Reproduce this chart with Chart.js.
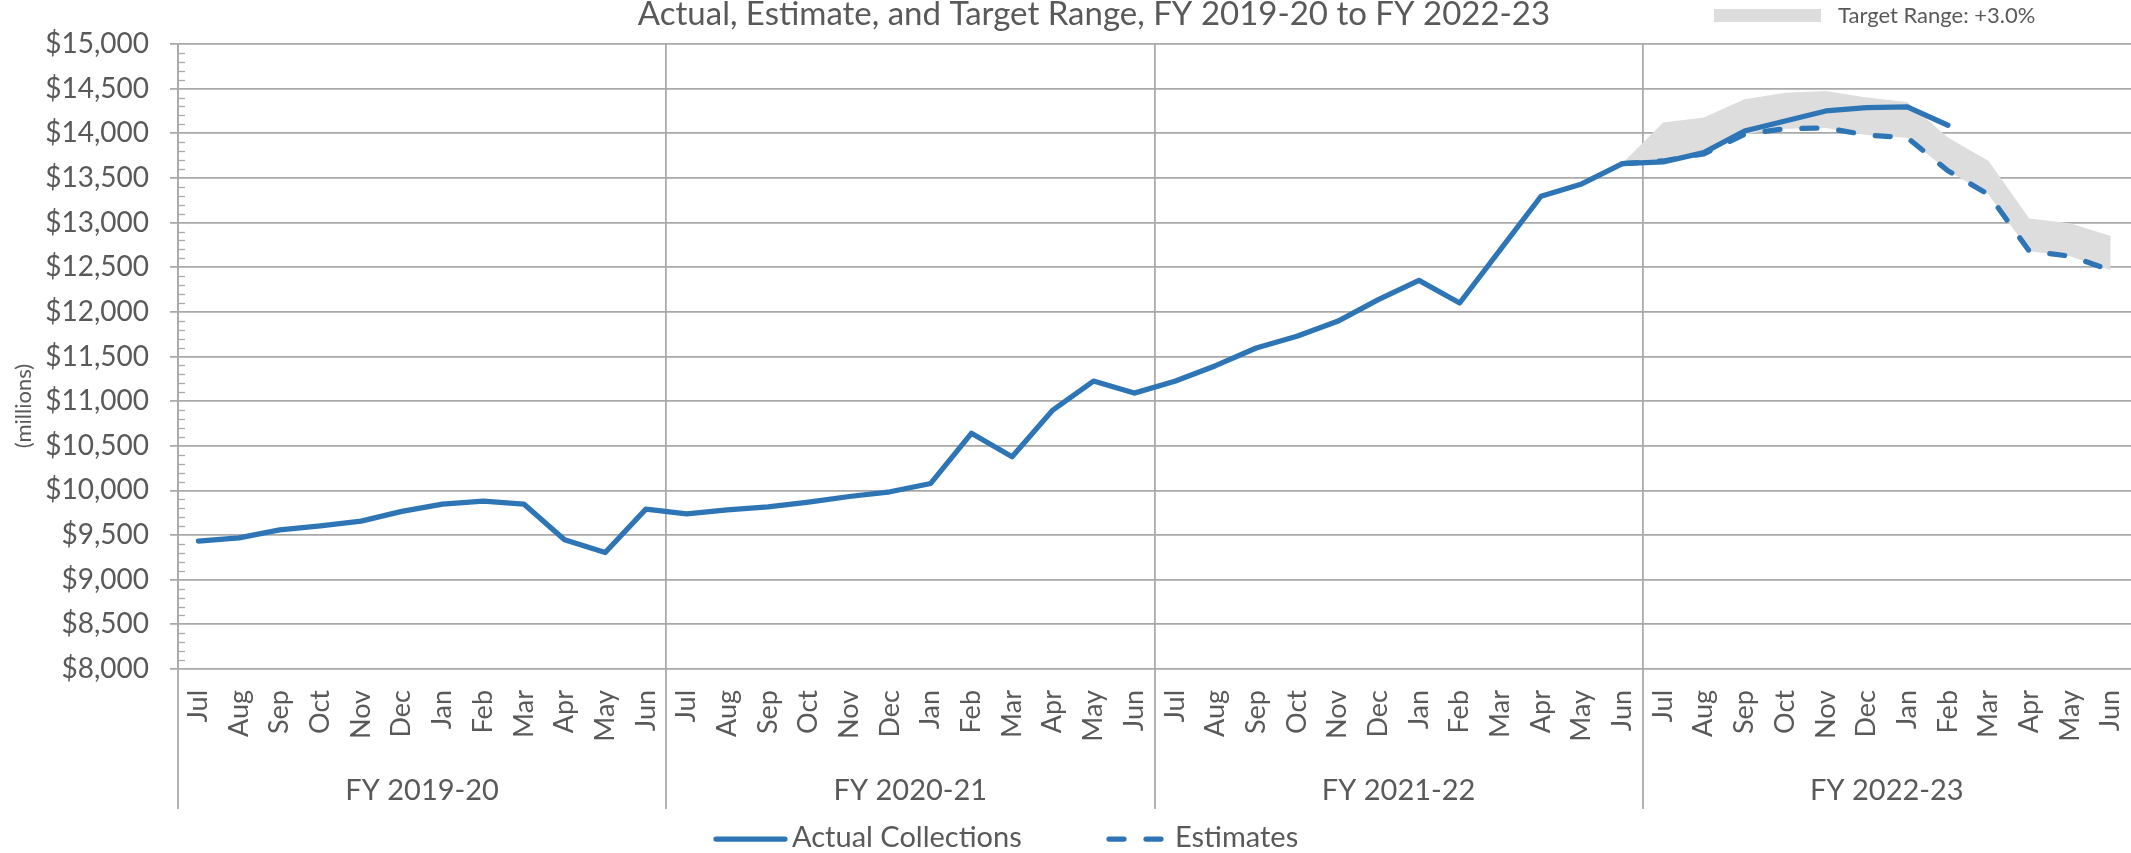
<!DOCTYPE html>
<html>
<head>
<meta charset="utf-8">
<script src="https://cdn.jsdelivr.net/npm/chart.js@4.4.1/dist/chart.umd.min.js"></script>
<style>
html,body{margin:0;padding:0;background:#ffffff;}
#wrap{width:2131px;height:853px;position:relative;overflow:hidden;}
</style>
</head>
<body>
<div id="wrap"><canvas id="c" width="2131" height="853"></canvas></div>
<script>
// ---------- data ----------
const monthNames = ['Jul','Aug','Sep','Oct','Nov','Dec','Jan','Feb','Mar','Apr','May','Jun'];
const fiscalYears = ['FY 2019-20','FY 2020-21','FY 2021-22','FY 2022-23'];
const yTickValues = [8000,8500,9000,9500,10000,10500,11000,11500,12000,12500,13000,13500,14000,14500,15000];

const actual1920 = [9432, 9469, 9559, 9604, 9656, 9765, 9847, 9880, 9847, 9447, 9305, 9791];
const actual2021 = [9738, 9782, 9817, 9870, 9932, 9985, 10078, 10640, 10378, 10900, 11225, 11090];
const actual2122 = [11222, 11397, 11595, 11726, 11894, 12137, 12353, 12099, 12697, 13295, 13433, 13661];
const actual2223 = [13679, 13784, 14026, 14138, 14250, 14287, 14295, 14090, null, null, null, null];

// Estimates and target range start from the June 2022 actual
const estimateStartJun22 = 13661;
const estimates2223 = [13690, 13770, 13988, 14052, 14060, 13981, 13951, 13580, 13315, 12680, 12624, 12467];
const targetStartJun22 = 13665;
const targetUpper2223 = [14120, 14176, 14381, 14455, 14474, 14400, 14350, 13952, 13690, 13045, 12993, 12851];

const titleText = 'Actual, Estimate, and Target Range, FY 2019-20 to FY 2022-23';
const yTitleText = '(millions)';
const bandLegendText = 'Target Range: +3.0%';

// ---------- assembled series ----------
const monthLabels = fiscalYears.flatMap(() => monthNames);
const actual = [...actual1920, ...actual2021, ...actual2122, ...actual2223];
const priorMonths = actual1920.length + actual2021.length + actual2122.length - 1;
const estimates = [...new Array(priorMonths).fill(null), estimateStartJun22, ...estimates2223];
const targetUpper = [...new Array(priorMonths).fill(null), targetStartJun22, ...targetUpper2223];

// ---------- styles ----------
const GRID = '#A9A9A9';
const TEXT = '#595959';
const BLUE = '#2E75B6';
const BAND = '#DDDDDD';
const FONT = 'Lato, "Open Sans", sans-serif';
const LINE_W = 5.25;

const extras = {
  id: 'extras',
  afterDraw(chart) {
    const {ctx, chartArea: ca, scales} = chart;
    const x = scales.x, x2 = scales.x2, y = scales.y;
    ctx.save();
    // fiscal-year divider lines through the category label area
    ctx.strokeStyle = GRID;
    ctx.lineWidth = 1.75;
    for (let i = 0; i < fiscalYears.length; i++) {
      const px = Math.round(x.getPixelForValue(i * monthNames.length - 0.5));
      ctx.beginPath();
      ctx.moveTo(px, ca.bottom);
      ctx.lineTo(px, x2.bottom);
      ctx.stroke();
    }
    // minor ticks on the value axis
    ctx.lineWidth = 1.3;
    for (let v = y.min; v <= y.max; v += 100) {
      if (v % 500 === 0) continue;
      const py = Math.round(y.getPixelForValue(v)) + 0.5;
      ctx.beginPath();
      ctx.moveTo(ca.left, py);
      ctx.lineTo(ca.left + 7, py);
      ctx.stroke();
    }
    // title
    ctx.fillStyle = TEXT;
    ctx.font = '33px ' + FONT;
    ctx.textAlign = 'center';
    ctx.textBaseline = 'alphabetic';
    ctx.fillText(titleText, 1094, 25);
    // band legend (top right)
    ctx.fillStyle = BAND;
    ctx.fillRect(1714, 9, 107, 13);
    ctx.fillStyle = TEXT;
    ctx.font = '22px ' + FONT;
    ctx.textAlign = 'left';
    ctx.fillText(bandLegendText, 1838, 23);
    // value-axis title
    ctx.save();
    ctx.translate(24, 406);
    ctx.rotate(-Math.PI / 2);
    ctx.textAlign = 'center';
    ctx.textBaseline = 'middle';
    ctx.font = '22px ' + FONT;
    ctx.fillText(yTitleText, 0, 0);
    ctx.restore();
    // bottom legend for the two lines
    const ds = chart.data.datasets;
    const items = [
      {d: ds[0], x0: 716, x1: 785, tx: 792},
      {d: ds[1], x0: 1109, x1: 1166, tx: 1175}
    ];
    ctx.font = '29px ' + FONT;
    items.forEach(it => {
      ctx.strokeStyle = it.d.borderColor;
      ctx.lineWidth = it.d.borderWidth;
      ctx.lineCap = 'round';
      ctx.setLineDash(it.d.borderDash || []);
      ctx.beginPath();
      ctx.moveTo(it.x0, 839);
      ctx.lineTo(it.x1, 839);
      ctx.stroke();
      ctx.setLineDash([]);
      ctx.fillStyle = TEXT;
      ctx.textAlign = 'left';
      ctx.textBaseline = 'alphabetic';
      ctx.fillText(it.d.label, it.tx, 847);
    });
    ctx.restore();
  }
};

function draw() {
  new Chart(document.getElementById('c'), {
    type: 'line',
    data: {
      labels: monthLabels,
      datasets: [
        {label: 'Actual Collections', data: actual, borderColor: BLUE, borderWidth: LINE_W,
         borderCapStyle: 'round', borderJoinStyle: 'round', pointRadius: 0, fill: false, tension: 0,
         xAxisID: 'x', yAxisID: 'y'},
        {label: 'Estimates', data: estimates, borderColor: BLUE, borderWidth: LINE_W, borderDash: [15, 22],
         borderCapStyle: 'round', borderJoinStyle: 'round', pointRadius: 0, fill: false, tension: 0,
         xAxisID: 'x', yAxisID: 'y'},
        {label: bandLegendText, data: targetUpper, borderColor: 'rgba(0,0,0,0)', borderWidth: 0,
         backgroundColor: BAND, pointRadius: 0, fill: 1, tension: 0, xAxisID: 'x', yAxisID: 'y'}
      ]
    },
    options: {
      responsive: false,
      animation: false,
      devicePixelRatio: 1,
      layout: {padding: {top: 44, bottom: 44, left: 0, right: 0}},
      plugins: {legend: {display: false}, title: {display: false}, tooltip: {enabled: false}},
      scales: {
        x: {
          type: 'category', position: 'bottom', offset: true,
          grid: {offset: true, drawTicks: false, lineWidth: 1.75,
                 color: c => (c.index % monthNames.length === 0 && c.index < monthLabels.length) ? GRID : 'rgba(0,0,0,0)'},
          border: {display: false},
          ticks: {autoSkip: false, maxRotation: 90, minRotation: 90, padding: 21, color: TEXT,
                  font: {family: FONT, size: 27}},
          afterFit: s => { s.height = 100; s.paddingLeft = 0; s.paddingRight = 0; }
        },
        x2: {
          type: 'category', labels: fiscalYears, position: 'bottom', offset: true, weight: 1,
          grid: {display: false, drawTicks: false}, border: {display: false},
          ticks: {autoSkip: false, maxRotation: 0, minRotation: 0, padding: 4, color: TEXT,
                  font: {family: FONT, size: 29}},
          afterFit: s => { s.height = 40; s.paddingLeft = 0; s.paddingRight = 0; }
        },
        y: {
          type: 'linear', min: yTickValues[0], max: yTickValues[yTickValues.length - 1],
          afterBuildTicks: s => { s.ticks = yTickValues.map(v => ({value: v})); },
          grid: {color: GRID, lineWidth: 1.75, drawTicks: true, tickLength: 8, tickColor: GRID},
          border: {display: true, color: GRID, width: 1.75},
          ticks: {padding: 21, color: TEXT, font: {family: FONT, size: 28},
                  callback: v => '$' + Number(v).toLocaleString('en-US')},
          afterFit: s => { s.width = 178; }
        }
      }
    },
    plugins: [extras]
  });
}

const fontLoads = document.fonts ? Promise.all([
  document.fonts.load('26px Lato'), document.fonts.load('33px Lato')
]).catch(() => null) : Promise.resolve();
fontLoads.then(draw, draw);
</script>
</body>
</html>
